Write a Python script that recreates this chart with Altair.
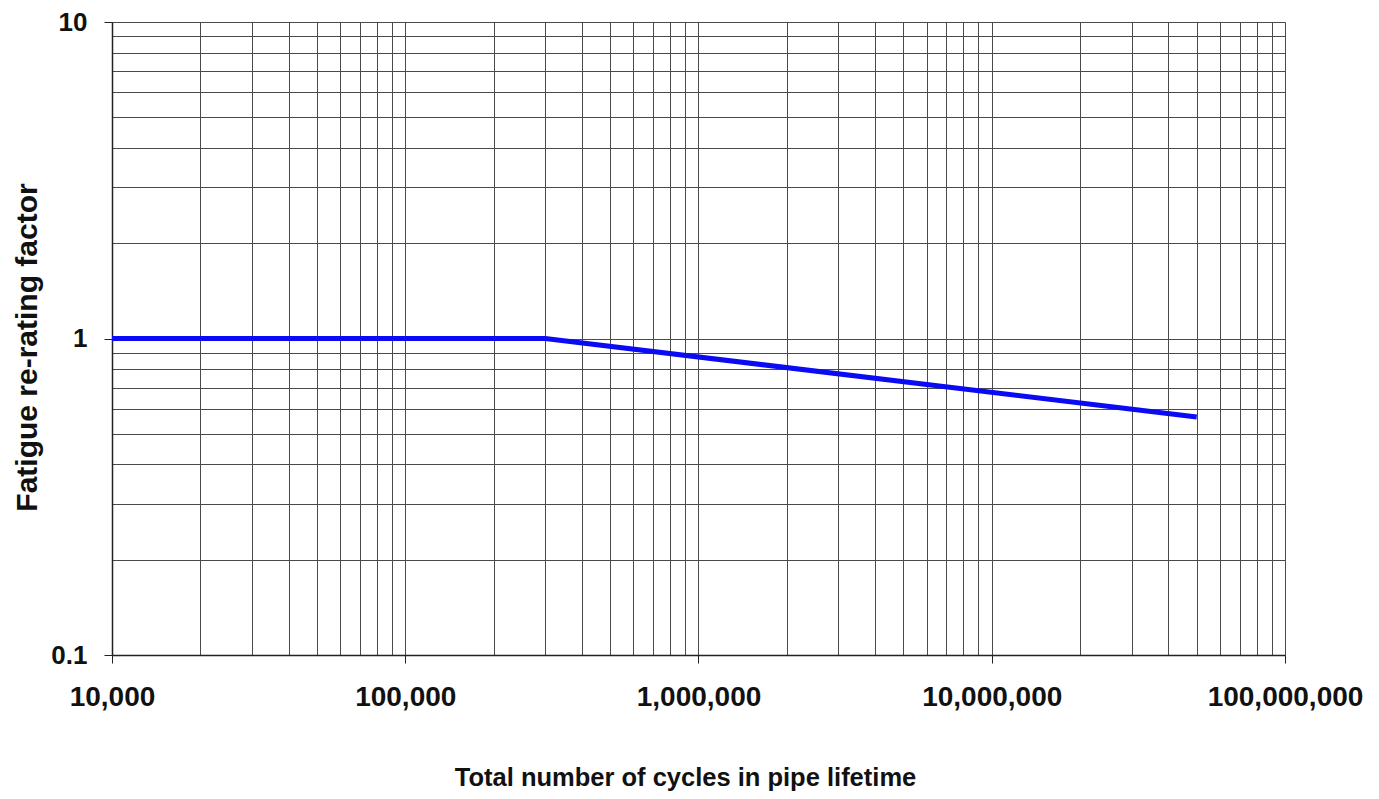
import altair as alt
import pandas as pd

# Data
cycles = [10000, 300000, 50000000]
factor = [1.0, 1.0, 0.565]

x_grid = [k * 10 ** e for e in range(4, 8) for k in range(1, 10)] + [100000000]
y_grid = [round(k * 10.0 ** e, 6) for e in range(-1, 1) for k in range(1, 10)] + [10.0]

df = pd.DataFrame({"cycles": cycles, "factor": factor})

major = "abs(log(datum.value)/LN10 - round(log(datum.value)/LN10)) < 0.001"
tick_cond = {"condition": {"test": major, "value": 1}, "value": 0}
label_expr = f"({major}) ? format(datum.value, ',') : ''"

FONT = "Liberation Sans"

x_axis = alt.Axis(
    values=x_grid,
    grid=True,
    gridColor="#4a4a4a",
    gridWidth=1,
    gridOpacity=1,
    domainColor="#222222",
    domainWidth=1.5,
    tickColor="#222222",
    tickSize=8,
    tickOpacity=tick_cond,
    labelExpr=label_expr,
    labelOverlap=False,
    labelFlush=False,
    labelFont=FONT,
    labelFontSize=28,
    labelFontWeight="bold",
    labelColor="#111111",
    labelPadding=20,
    title="Total number of cycles in pipe lifetime",
    titleFont=FONT,
    titleFontSize=25.5,
    titleFontWeight="bold",
    titleColor="#111111",
    titlePadding=54,
    titleX=573,
)

y_axis = alt.Axis(
    values=y_grid,
    grid=True,
    gridColor="#4a4a4a",
    gridWidth=1,
    gridOpacity=1,
    domainColor="#222222",
    domainWidth=1.5,
    tickColor="#222222",
    tickSize=8,
    tickOpacity=tick_cond,
    labelExpr=label_expr,
    labelOverlap=False,
    labelFlush=False,
    labelFont=FONT,
    labelFontSize=26,
    labelFontWeight="bold",
    labelColor="#111111",
    labelPadding=17,
    title="Fatigue re-rating factor",
    titleFont=FONT,
    titleFontSize=30,
    titleFontWeight="bold",
    titleColor="#111111",
    titlePadding=8,
    titleY=325,
)

chart = (
    alt.Chart(df)
    .mark_line(color="#0a0af5", strokeWidth=5)
    .encode(
        x=alt.X("cycles:Q", scale=alt.Scale(type="log", domain=[10000, 100000000], nice=False), axis=x_axis),
        y=alt.Y("factor:Q", scale=alt.Scale(type="log", domain=[0.1, 10], nice=False), axis=y_axis),
    )
    .properties(
        width=1173,
        height=633,
        autosize=alt.AutoSizeParams(type="none"),
        padding={"left": 104, "top": 14, "right": 80, "bottom": 142},
    )
    .configure_view(stroke=None)
    .configure(background="white")
)

chart.save("out.html", embed_options={"renderer": "svg", "actions": False})
